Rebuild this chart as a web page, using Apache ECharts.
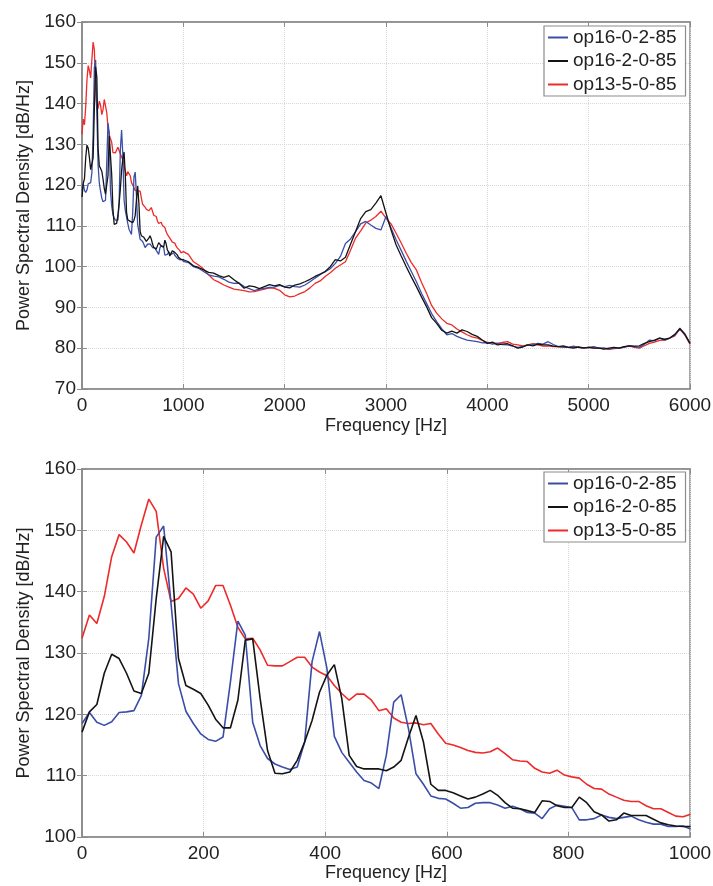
<!DOCTYPE html>
<html>
<head>
<meta charset="utf-8">
<script src="https://cdn.jsdelivr.net/npm/echarts@6/dist/echarts.min.js"></script>
<style>
html,body{margin:0;padding:0;background:#fff;}
#chart{width:713px;height:886px;}
</style>
</head>
<body>
<div id="chart"></div>
<script>
// ---- data ----
const seriesNames = ['op16-0-2-85', 'op16-2-0-85', 'op13-5-0-85'];
// spectral bins 0..1000 Hz (bin width ~12.207 Hz)
const BIN_HZ = 12.207;
const lowBlue = [118.5,120.3,118.7,118.2,118.8,120.3,120.4,120.6,123.1,132.4,148.9,150.7,138.0,125.0,120.5,118.5,116.8,115.9,115.6,116.3,125.3,135.2,132.9,118.7,114.9,112.8,111.9,111.4,111.0,111.4,115.5,128.6,133.5,127.5,116.4,113.8,112.2,110.6,109.2,108.8,107.9,113.3,122.0,123.2,117.6,110.3,108.6,106.7,106.3,106.2,105.5,104.7,104.8,105.5,105.6,105.6,105.2,104.7,105.0,104.6,104.0,103.9,103.0,104.6,105.2,105.0,104.8,102.8,102.8,103.0,103.6,103.2,103.0,103.2,103.4,102.8,102.4,102.1,102.1,101.7,101.7,101.8,101.3];
const lowBlack = [117.1,120.4,121.6,126.7,129.8,129.1,126.7,123.8,123.4,126.7,138.9,149.0,146.5,129.1,124.7,124.1,123.4,121.5,119.2,117.8,117.8,122.3,132.1,132.3,122.6,114.1,110.4,110.3,110.6,112.5,115.5,119.0,123.6,126.4,128.1,122.6,113.3,111.5,111.1,111.1,111.1,110.8,111.4,112.5,116.3,119.8,115.5,108.6,107.6,107.6,107.2,106.7,106.2,106.5,107.0,107.6,106.8,105.6,104.7,104.6,104.3,104.0,105.9,105.8,105.1,104.8,104.8,106.5,105.6,104.1,103.6,102.6,102.8,103.9,103.5,103.5,103.5,102.9,102.3,102.0,101.8,101.7,101.7];
const lowRed = [132.4,136.2,134.8,139.2,145.7,149.3,148.1,146.3,150.9,155.1,153.1,143.8,138.4,138.9,140.6,139.6,137.3,138.5,141.0,141.0,137.8,134.2,132.3,132.4,130.5,128.0,127.9,127.9,128.6,129.3,129.3,127.7,126.9,126.3,124.7,123.4,122.3,123.3,123.3,122.3,120.6,120.9,119.4,118.7,118.5,118.6,118.3,118.5,116.8,115.3,115.0,114.6,114.1,113.8,113.7,113.9,114.5,113.6,112.6,112.4,112.3,111.2,110.6,110.4,110.9,110.1,109.8,109.6,108.6,107.9,107.8,107.0,106.5,106.0,105.8,105.8,105.1,104.6,104.6,104.0,103.4,103.3,103.7];
// 1050..6000 Hz, every 50 Hz
const HI_START = 1050, HI_STEP = 50;
const hiBlue = [101.0,100.0,99.6,98.8,98.0,97.7,97.5,96.9,96.2,95.9,96.0,95.1,94.6,94.1,94.5,94.7,94.9,95.0,95.4,95.1,95.4,95.1,95.0,95.5,96.3,97.2,98.0,98.8,99.5,100.8,102.5,105.7,106.8,108.6,110.5,111.1,110.2,109.4,109.0,112.3,109.5,106.6,104.0,101.3,98.8,96.3,93.5,91.0,88.5,86.5,84.8,83.3,83.6,82.9,82.4,82.0,81.8,81.6,81.3,81.4,81.0,81.2,80.9,80.8,80.5,80.2,80.4,80.8,80.9,81.2,81.0,81.6,80.9,80.4,80.3,80.2,80.5,80.2,80.0,80.2,80.4,80.0,80.1,79.8,80.1,80.0,80.3,80.6,80.4,80.2,81.0,82.0,81.8,82.5,82.0,82.5,83.2,84.9,83.3,81.2];
const hiBlack = [101.2,100.2,99.8,99.2,98.6,98.4,97.8,97.4,97.8,96.8,95.9,94.7,95.3,95.1,94.6,95.1,95.6,95.3,95.6,95.0,94.8,95.5,95.8,96.3,96.9,97.6,98.2,98.8,100.0,101.7,101.4,102.3,105.5,108.6,111.8,113.5,114.0,115.6,117.4,113.1,109.0,105.3,102.6,100.0,97.5,95.1,92.6,90.2,87.5,86.1,84.4,83.7,84.2,83.7,84.5,84.1,83.4,82.9,82.0,81.2,81.5,80.8,81.0,81.1,80.6,80.0,80.3,80.8,80.6,81.0,80.8,80.8,80.5,80.4,80.6,80.2,80.0,80.3,80.1,80.2,80.0,80.0,79.8,80.0,80.2,80.0,80.4,80.6,80.5,80.6,81.2,81.6,82.0,82.5,82.2,82.5,83.4,84.8,83.5,81.2];
const hiRed = [103.0,101.2,100.4,99.4,98.0,96.8,96.2,95.5,95.0,94.5,94.3,94.1,93.8,93.9,94.2,94.5,94.8,94.7,94.2,93.1,92.6,92.8,93.4,93.9,94.8,95.9,96.5,97.6,98.5,99.6,100.4,101.2,104.0,107.0,108.8,110.7,111.4,112.3,113.6,111.9,110.5,108.2,105.8,103.3,101.0,99.2,96.2,93.5,90.5,88.6,87.2,86.1,85.7,84.7,84.0,83.3,82.8,82.5,81.9,81.4,81.3,81.2,81.4,81.6,81.0,80.8,80.6,80.8,81.1,80.8,80.5,80.6,80.4,80.4,80.2,80.2,80.3,80.2,80.0,80.2,80.1,80.0,79.9,79.7,79.9,80.0,80.2,80.6,80.2,80.0,80.6,81.2,81.5,81.9,82.0,82.5,83.0,84.7,83.2,81.0];

// ---- style ----
const colors = ['#3a4ea8', '#141414', '#ee2a2a'];
const FONT = "'Liberation Sans', Arial, sans-serif";
const frameColor = '#8c8c8c';
const plainNum = v => String(Math.round(v));

function toPairs(low, hi) {
  const out = low.map((v, k) => [k * BIN_HZ, v]);
  if (hi) hi.forEach((v, i) => out.push([HI_START + i * HI_STEP, v]));
  return out;
}

const lows = [lowBlue, lowBlack, lowRed];
const his = [hiBlue, hiBlack, hiRed];

const grids = [
  {left: 82, right: 23, top: 22, height: 367, show: true, borderColor: frameColor, borderWidth: 1.5, containLabel: false, outerBoundsMode: 'none'},
  {left: 82, right: 23, top: 469, height: 368, show: true, borderColor: frameColor, borderWidth: 1.5, containLabel: false, outerBoundsMode: 'none'}
];

function mainX(gi, max, interval, nameGap) {
  return {
    type: 'value', gridIndex: gi, min: 0, max: max, interval: interval,
    name: 'Frequency [Hz]', nameLocation: 'middle', nameGap: nameGap,
    nameTextStyle: {fontFamily: FONT, fontSize: 18, color: '#222'},
    axisLine: {show: true, lineStyle: {color: frameColor, width: 1.5}},
    axisTick: {show: true, inside: true, length: 5, lineStyle: {color: frameColor}},
    axisLabel: {fontFamily: FONT, fontSize: 19, color: '#222', margin: 7, formatter: plainNum},
    splitLine: {show: true, lineStyle: {color: '#d8d8d8', type: 'dotted', width: 1}}
  };
}
function topX(gi, max, interval) {
  return {
    type: 'value', gridIndex: gi, min: 0, max: max, interval: interval, position: 'top',
    axisLine: {show: true, lineStyle: {color: frameColor, width: 1.5}},
    axisTick: {show: true, inside: true, length: 5, lineStyle: {color: frameColor}},
    axisLabel: {show: false}, splitLine: {show: false}
  };
}
function mainY(gi, min, max) {
  return {
    type: 'value', gridIndex: gi, min: min, max: max, interval: 10,
    name: 'Power Spectral Density [dB/Hz]', nameLocation: 'middle', nameGap: 48, nameRotate: 90,
    nameTextStyle: {fontFamily: FONT, fontSize: 18, color: '#222'},
    axisLine: {show: true, lineStyle: {color: frameColor, width: 1.5}},
    axisTick: {show: true, inside: true, length: 5, lineStyle: {color: frameColor}},
    axisLabel: {fontFamily: FONT, fontSize: 19, color: '#222', margin: 6, formatter: plainNum},
    splitLine: {show: true, lineStyle: {color: '#d8d8d8', type: 'dotted', width: 1}}
  };
}
function rightY(gi, min, max) {
  return {
    type: 'value', gridIndex: gi, min: min, max: max, interval: 10, position: 'right',
    axisLine: {show: true, lineStyle: {color: frameColor, width: 1.5}},
    axisTick: {show: true, inside: true, length: 5, lineStyle: {color: frameColor}},
    axisLabel: {show: false}, splitLine: {show: false}
  };
}

const zOrder = [2, 3, 1];
const series = [];
[0, 1].forEach(gi => {
  seriesNames.forEach((name, i) => {
    series.push({
      name: name, type: 'line', xAxisIndex: gi * 2, yAxisIndex: gi * 2,
      data: toPairs(lows[i], gi === 0 ? his[i] : null),
      showSymbol: false, symbol: 'none', animation: false,
      lineStyle: {color: colors[i], width: gi === 0 ? 1.3 : 1.6},
      itemStyle: {color: colors[i]}, z: zOrder[i]
    });
  });
});

function legend(top) {
  return {
    data: seriesNames, orient: 'vertical', left: 544, top: top,
    icon: 'rect', itemWidth: 20, itemHeight: 2, itemGap: 2.5,
    backgroundColor: '#fff', borderColor: frameColor, borderWidth: 1.2, borderRadius: 0,
    padding: [1, 9, 1, 4],
    textStyle: {fontFamily: FONT, fontSize: 19, color: '#222', lineHeight: 21},
    selectedMode: false
  };
}

const option = {
  animation: false,
  backgroundColor: '#fff',
  color: colors,
  grid: grids,
  xAxis: [mainX(0, 6000, 1000, 28), topX(0, 6000, 1000), mainX(1, 1000, 200, 27), topX(1, 1000, 200)],
  yAxis: [mainY(0, 70, 160), rightY(0, 70, 160), mainY(1, 100, 160), rightY(1, 100, 160)],
  legend: [legend(26), legend(472)],
  series: series
};

const chart = echarts.init(document.getElementById('chart'), null, {renderer: 'canvas'});
chart.setOption(option);
</script>
</body>
</html>
